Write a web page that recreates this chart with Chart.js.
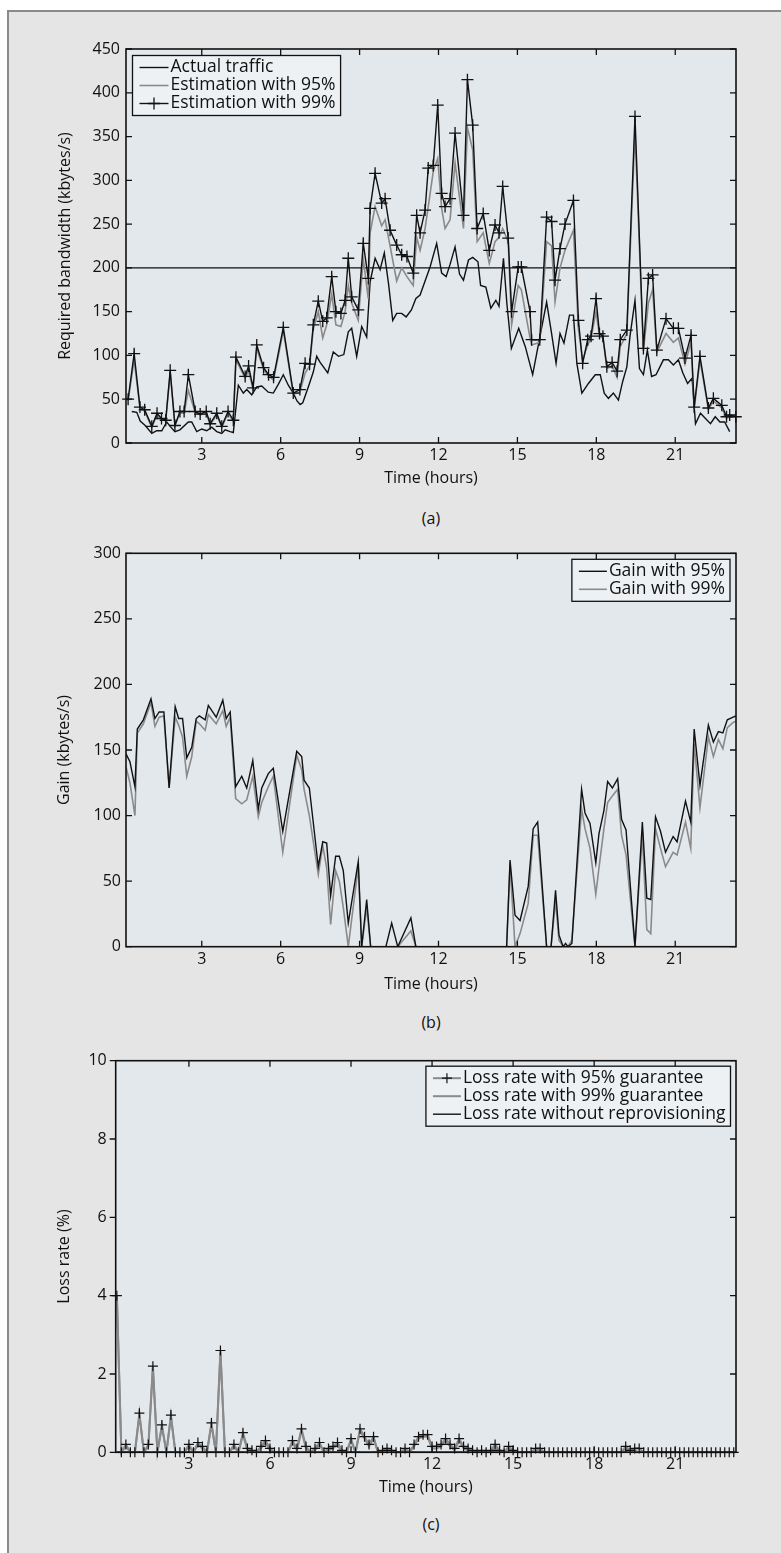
<!DOCTYPE html>
<html lang="en">
<head>
<meta charset="UTF-8">
<title>Bandwidth estimation, gain and loss rate</title>
<script src="https://cdn.jsdelivr.net/npm/chart.js"></script>
<style>
  html, body { margin: 0; padding: 0; background: #fff; }
  body { width: 781px; height: 1553px; position: relative; overflow: hidden; font-family: 'Open Sans', sans-serif; }
  .panel { position: absolute; left: 7px; top: 10px; right: 0; bottom: 0; background: #e5e5e5;
           border-left: 2px solid #8a8a8a; border-top: 2px solid #8a8a8a; }
  .box { position: absolute; left: 0; width: 781px; }
  .caption { position: absolute; left: 0; width: 862px; text-align: center; font-size: 16px; line-height: 22px; color: #111; }
</style>
</head>
<body>
<div class="panel"></div>
<div class="box" style="top:0;height:488px"><canvas id="chartA"></canvas></div>
<div class="caption" style="top:507px">(a)</div>
<div class="box" style="top:500px;height:494px"><canvas id="chartB"></canvas></div>
<div class="caption" style="top:1011px">(b)</div>
<div class="box" style="top:1000px;height:497px"><canvas id="chartC"></canvas></div>
<div class="caption" style="top:1513px">(c)</div>

<script>
// ---- (a) required bandwidth, kbytes/s ----
const estTimes = [
  0.2, 0.43, 0.65, 0.83, 1.1, 1.3, 1.47, 1.63, 1.8, 1.98,
  2.17, 2.33, 2.49, 2.75, 2.94, 3.17, 3.32, 3.57, 3.76, 4.0,
  4.2, 4.3, 4.65, 4.78, 4.95, 5.09, 5.35, 5.54, 5.73, 6.1,
  6.48, 6.73, 6.93, 7.1, 7.24, 7.43, 7.6, 7.75, 7.94, 8.1,
  8.29, 8.45, 8.57, 8.7, 8.95, 9.14, 9.33, 9.4, 9.59, 9.84,
  9.97, 10.16, 10.41, 10.6, 10.8, 11.04, 11.17, 11.3, 11.49, 11.61,
  11.8, 11.97, 12.12, 12.25, 12.44, 12.63, 12.95, 13.1, 13.3, 13.47,
  13.7, 13.93, 14.15, 14.3, 14.44, 14.65, 14.78, 15.03, 15.15, 15.48,
  15.54, 15.85, 16.11, 16.3, 16.43, 16.62, 16.81, 17.13, 17.32, 17.48,
  17.67, 17.8, 17.99, 18.12, 18.25, 18.4, 18.6, 18.79, 18.91, 19.16,
  19.47, 19.79, 19.98, 20.14, 20.3, 20.65, 20.93, 21.12, 21.37, 21.6,
  21.72, 21.94, 22.26, 22.45, 22.77, 22.95, 23.07, 23.3
];
const est95 = [
  48, 95, 40, 36, 18, 32, 27, 25, 80, 20,
  34, 34, 60, 35, 32, 34, 21, 32, 18, 34,
  25, 95, 74, 82, 62, 108, 84, 76, 72, 128,
  56, 58, 80, 88, 130, 150, 120, 135, 170, 135,
  133, 150, 180, 160, 140, 210, 165, 240, 270, 248,
  255, 225, 185, 200, 190, 180, 235, 220, 245, 270,
  310, 325, 268, 245, 255, 320, 245, 360, 335, 230,
  240, 205, 230, 235, 245, 230, 135, 180, 175, 120,
  112, 115, 230, 225, 161, 200, 220, 243, 130, 95,
  112, 120, 150, 122, 120, 85, 88, 75, 110, 125,
  355, 105, 160, 175, 104, 125, 115, 120, 90, 115,
  38, 95, 38, 48, 40, 28, 30, 30
];
const est99 = [
  50, 102, 41, 38, 19, 34, 28, 26, 83, 20,
  36, 36, 78, 36, 33, 36, 22, 34, 19, 36,
  26, 98, 76, 88, 63, 112, 86, 78, 75, 132,
  57, 61, 91, 90, 135, 162, 139, 143, 190, 150,
  148, 163, 211, 167, 152, 228, 188, 268, 308, 274,
  279, 243, 226, 215, 213, 194, 260, 240, 266, 314,
  317, 386, 285, 270, 279, 354, 260, 415, 363, 245,
  262, 220, 249, 240, 293, 234, 150, 201, 201, 150,
  118, 118, 258, 253, 186, 222, 250, 277, 140, 91,
  118, 122, 165, 125, 122, 87, 92, 82, 118, 129,
  373, 108, 188, 192, 106, 142, 131, 131, 97, 123,
  41, 99, 40, 51, 43, 30, 32, 30
];
const trafficTimes = [
  0.34, 0.53, 0.66, 0.85, 1.1, 1.29, 1.48, 1.67, 1.8, 1.98,
  2.17, 2.49, 2.62, 2.81, 3.0, 3.19, 3.38, 3.57, 3.76, 3.89,
  4.08, 4.2, 4.39, 4.58, 4.71, 4.9, 5.09, 5.28, 5.53, 5.72,
  5.91, 6.1, 6.29, 6.48, 6.62, 6.74, 6.84, 7.05, 7.24, 7.37,
  7.5, 7.79, 8.0, 8.2, 8.4, 8.57, 8.7, 8.89, 9.08, 9.27,
  9.4, 9.59, 9.78, 9.94, 10.1, 10.26, 10.41, 10.6, 10.77, 10.97,
  11.14, 11.3, 11.5, 11.68, 11.93, 12.12, 12.29, 12.44, 12.63, 12.8,
  12.95, 13.14, 13.3, 13.5, 13.6, 13.8, 13.99, 14.18, 14.3, 14.47,
  14.6, 14.77, 15.05, 15.3, 15.58, 15.86, 16.11, 16.3, 16.47, 16.62,
  16.77, 16.98, 17.13, 17.26, 17.45, 17.7, 17.96, 18.15, 18.3, 18.46,
  18.65, 18.84, 19.0, 19.16, 19.28, 19.47, 19.64, 19.79, 19.94, 20.1,
  20.27, 20.55, 20.74, 20.93, 21.12, 21.29, 21.47, 21.64, 21.77, 21.96,
  22.15, 22.34, 22.52, 22.7, 22.88, 23.07
];
const traffic = [
  36, 35, 25, 20, 11, 14, 14, 24, 19, 13,
  15, 24, 24, 13, 16, 14, 18, 13, 11, 15,
  13, 12, 66, 57, 61, 55, 64, 65, 58, 57,
  67, 78, 66, 57, 48, 44, 46, 64, 81, 99,
  92, 80, 104, 99, 101, 127, 131, 99, 133, 121,
  184, 211, 198, 217, 182, 140, 148, 148, 144, 152,
  165, 169, 186, 201, 228, 194, 190, 204, 224, 193,
  186, 209, 212, 207, 180, 178, 154, 163, 156, 211,
  159, 108, 131, 110, 78, 122, 161, 125, 91, 125,
  114, 146, 146, 91, 57, 68, 78, 78, 57, 51,
  57, 49, 70, 87, 122, 163, 85, 78, 106, 76,
  78, 95, 95, 89, 95, 80, 68, 74, 22, 34,
  28, 22, 30, 24, 24, 13
];
const LINK_CAPACITY = 200;

// ---- (b) gain, kbytes/s ----
const gainTimes = [
  0.12, 0.27, 0.46, 0.55, 0.78, 1.07, 1.22, 1.38, 1.56, 1.76,
  1.99, 2.12, 2.27, 2.43, 2.62, 2.79, 2.91, 3.13, 3.25, 3.55,
  3.8, 3.93, 4.08, 4.29, 4.52, 4.71, 4.94, 5.15, 5.28, 5.53,
  5.72, 6.08, 6.61, 6.8, 6.89, 7.09, 7.43, 7.6, 7.75, 7.9,
  8.09, 8.23, 8.38, 8.57, 8.95, 9.08, 9.27, 9.42, 10.0, 10.22,
  10.45, 10.95, 11.14, 14.59, 14.72, 14.91, 15.1, 15.41, 15.6, 15.77,
  16.11, 16.28, 16.45, 16.58, 16.74, 16.83, 16.92, 17.07, 17.44, 17.57,
  17.76, 17.98, 18.1, 18.29, 18.43, 18.61, 18.81, 18.96, 19.13, 19.47,
  19.75, 19.92, 20.07, 20.25, 20.44, 20.63, 20.92, 21.07, 21.39, 21.59,
  21.72, 21.94, 22.26, 22.45, 22.64, 22.81, 22.98, 23.2, 23.31
];
const gain95 = [
  147, 141, 122, 166, 173, 189, 174, 179, 179, 121,
  183, 174, 174, 144, 152, 174, 176, 173, 184, 175,
  188, 174, 179, 122, 130, 121, 142, 105, 121, 132,
  136, 88, 149, 145, 127, 121, 61, 80, 79, 39,
  69, 69, 58, 18, 65, 0, 36, 0, 0, 18,
  0, 22, 0, 0, 66, 24, 20, 46, 90, 95,
  0, 0, 43, 9, 0, 2.5, 0, 2.5, 120, 102,
  94, 64, 86, 104, 126, 121, 128, 97, 89, 0,
  95, 37, 36, 99, 88, 72, 84, 80, 111, 95,
  166, 123, 169, 156, 164, 163, 173, 175, 176
];
const gain99 = [
  137, 125, 100, 163, 170, 186, 168, 175, 176, 121,
  175, 169, 160, 130, 145, 172, 170, 165, 177, 170,
  180, 168, 175, 113, 109, 112, 130, 99, 110, 122,
  130, 72, 146, 135, 120, 100, 55, 77, 60, 17,
  58, 50, 30, 0, 61, 0, 30, 0, 0, 0,
  0, 12, 0, 0, 62, 0, 10, 33, 85, 85,
  0, 0, 35, 5, 0, 0, 0, 5, 105, 90,
  75, 40, 60, 90, 110, 115, 120, 85, 70, 0,
  85, 13, 10, 90, 75, 61, 72, 70, 95, 75,
  155, 106, 160, 145, 158, 151, 167, 171, 172
];

// ---- (c) loss rate, %, one sample every 10 minutes from 0:20 ----
const loss95 = [
  4.0, 0, 0.2, 0, 0, 1.0, 0, 0.2, 2.2, 0,
  0.7, 0, 0.95, 0, 0, 0, 0.2, 0, 0.25, 0.15,
  0, 0.75, 0, 2.6, 0, 0, 0.2, 0, 0.5, 0.1,
  0.05, 0, 0.15, 0.3, 0.1, 0, 0, 0, 0, 0.3,
  0.1, 0.6, 0.15, 0, 0.1, 0.25, 0, 0.1, 0.15, 0.25,
  0.05, 0, 0.35, 0, 0.6, 0.4, 0.2, 0.4, 0, 0.05,
  0.1, 0.05, 0, 0, 0.1, 0, 0.2, 0.4, 0.45, 0.45,
  0.15, 0.15, 0.2, 0.35, 0.2, 0.1, 0.35, 0.15, 0.1, 0.05,
  0, 0.05, 0, 0.05, 0.2, 0.05, 0, 0.15, 0.05, 0,
  0, 0, 0, 0.1, 0.1, 0, 0, 0, 0, 0,
  0, 0, 0, 0, 0, 0, 0, 0, 0, 0,
  0, 0, 0, 0.15, 0.05, 0.1, 0.1, 0, 0, 0,
  0, 0, 0, 0, 0, 0, 0, 0, 0, 0,
  0, 0, 0, 0, 0, 0, 0, 0
];
const loss99 = [
  4.0, 0, 0.15, 0, 0, 0.95, 0, 0.15, 2.15, 0,
  0.65, 0, 0.9, 0, 0, 0, 0.15, 0, 0.2, 0.1,
  0, 0.7, 0, 2.55, 0, 0, 0.15, 0, 0.45, 0.05,
  0, 0, 0.1, 0.25, 0.05, 0, 0, 0, 0, 0.25,
  0.05, 0.55, 0.1, 0, 0.05, 0.2, 0, 0.05, 0.1, 0.2,
  0, 0, 0.3, 0, 0.55, 0.35, 0.15, 0.35, 0, 0,
  0.05, 0, 0, 0, 0.05, 0, 0.15, 0.35, 0.4, 0.4,
  0.1, 0.1, 0.15, 0.3, 0.15, 0.05, 0.3, 0.1, 0.05, 0,
  0, 0, 0, 0, 0.15, 0, 0, 0.1, 0, 0,
  0, 0, 0, 0.05, 0.05, 0, 0, 0, 0, 0,
  0, 0, 0, 0, 0, 0, 0, 0, 0, 0,
  0, 0, 0, 0.1, 0, 0.05, 0, 0, 0, 0,
  0, 0, 0, 0, 0, 0, 0, 0, 0, 0,
  0, 0, 0, 0, 0, 0, 0, 0
];
const lossTimes = loss95.map((_, i) => (i + 2) / 6);
const noReprovTimes = [0.33, 23.17];
const noReprovLoss = [0, 0];

const xTicks = [3, 6, 9, 12, 15, 18, 21];

const FONT = "'Open Sans', sans-serif";
const INK = '#111';
const GREY = '#8a8a8a';
const PLOT_BG = '#e3e8ed';
const LEGEND_BG = '#eef1f4';
const LEGEND_FONT = 17.5;

Chart.defaults.font.family = FONT;
Chart.defaults.font.size = 16;
Chart.defaults.color = INK;

const pts = (xs, ys) => xs.map((x, i) => ({ x, y: ys[i] }));

// plot background, box and inward tick marks
const plotFrame = {
  id: 'plotFrame',
  beforeDraw(chart, args, o) {
    const { ctx, chartArea: a } = chart;
    ctx.save();
    ctx.fillStyle = PLOT_BG;
    ctx.fillRect(a.left, a.top, a.right - a.left, a.bottom - a.top);
    ctx.restore();
  },
  afterDatasetsDraw(chart, args, o) {
    const { ctx, chartArea: a, scales: { x, y } } = chart;
    const len = o.tickLength;
    ctx.save();
    ctx.strokeStyle = INK;
    ctx.lineWidth = 1.3;
    ctx.beginPath();
    x.ticks.forEach(t => {
      const px = x.getPixelForValue(t.value);
      ctx.moveTo(px, a.bottom); ctx.lineTo(px, a.bottom - len);
      ctx.moveTo(px, a.top); ctx.lineTo(px, a.top + len);
    });
    y.ticks.forEach(t => {
      const py = y.getPixelForValue(t.value);
      ctx.moveTo(a.left, py); ctx.lineTo(o.leftOutward ? a.left - len : a.left + len, py);
      ctx.moveTo(a.right, py); ctx.lineTo(a.right - len, py);
    });
    ctx.stroke();
    ctx.lineWidth = 1.6;
    ctx.strokeRect(a.left, a.top, a.right - a.left, a.bottom - a.top);
    ctx.restore();
  }
};

// boxed legend inside the plot
const boxLegend = {
  id: 'boxLegend',
  afterDraw(chart, args, o) {
    const { ctx, chartArea: a } = chart;
    const items = chart.data.datasets.filter(d => d.label);
    ctx.save();
    ctx.font = LEGEND_FONT + 'px ' + FONT;
    const textW = Math.max(...items.map(d => ctx.measureText(d.label).width));
    const w = 7 + o.sample + 2 + textW + 5;
    const h = items.length * 18 + 6;
    const left = o.align === 'left' ? a.left + o.inset : a.right - o.inset - w;
    const top = a.top + o.inset;
    ctx.fillStyle = LEGEND_BG;
    ctx.fillRect(left, top, w, h);
    ctx.strokeStyle = INK;
    ctx.lineWidth = 1.3;
    ctx.strokeRect(left, top, w, h);
    items.forEach((d, i) => {
      const cy = top + 3 + 18 * (i + 0.5);
      const x0 = left + 7, x1 = x0 + o.sample;
      ctx.strokeStyle = d.borderColor;
      ctx.lineWidth = d.borderWidth;
      ctx.beginPath(); ctx.moveTo(x0, cy); ctx.lineTo(x1, cy); ctx.stroke();
      if (d.pointRadius > 0) {
        const cx = (x0 + x1) / 2, r = d.pointRadius;
        ctx.strokeStyle = d.pointBorderColor;
        ctx.lineWidth = d.pointBorderWidth;
        ctx.beginPath();
        ctx.moveTo(cx - r, cy); ctx.lineTo(cx + r, cy);
        ctx.moveTo(cx, cy - r); ctx.lineTo(cx, cy + r);
        ctx.stroke();
      }
      ctx.fillStyle = INK;
      ctx.textBaseline = 'middle';
      ctx.fillText(d.label, x1 + 2, cy);
    });
    ctx.restore();
  }
};

function lineSet(label, data, color, width, order, extra) {
  return Object.assign({
    label, data, order,
    borderColor: color, borderWidth: width,
    pointRadius: 0, pointHoverRadius: 0,
    tension: 0, fill: false
  }, extra || {});
}

function makeChart(id, c) {
  return new Chart(document.getElementById(id), {
    type: 'line',
    data: { datasets: c.datasets },
    options: {
      responsive: true,
      maintainAspectRatio: false,
      animation: false,
      events: [],
      layout: { padding: { top: c.top, right: 45, bottom: 0, left: c.left } },
      plugins: {
        legend: { display: false },
        tooltip: { enabled: false },
        plotFrame: { tickLength: 6, leftOutward: !!c.leftOutward },
        boxLegend: { align: c.legendAlign, inset: c.legendInset, sample: c.sample }
      },
      scales: {
        x: {
          type: 'linear', min: c.xMin, max: c.xMax,
          afterBuildTicks: s => { s.ticks = xTicks.map(v => ({ value: v })); },
          afterFit: s => { s.height = c.xHeight; },
          grid: { display: false, drawTicks: false },
          border: { display: false },
          ticks: { padding: 3, maxRotation: 0 },
          title: { display: true, text: 'Time (hours)', padding: 0 }
        },
        y: {
          min: 0, max: c.yMax,
          afterFit: s => { s.width = c.yWidth; },
          grid: { display: false, drawTicks: false },
          border: { display: false },
          ticks: { stepSize: c.yStep, padding: c.yPad },
          title: { display: true, text: c.yTitle, padding: 0 }
        }
      }
    },
    plugins: [plotFrame, boxLegend]
  });
}

// (a)
makeChart('chartA', {
  top: 49, left: 55.4, yWidth: 70.6, xHeight: 45,
  xMin: 0.12, xMax: 23.31, yMax: 450, yStep: 50, yPad: 6,
  yTitle: 'Required bandwidth (kbytes/s)',
  legendAlign: 'left', legendInset: 6.5, sample: 29,
  datasets: [
    lineSet('Actual traffic', pts(trafficTimes, traffic), INK, 1.4, 2),
    lineSet('Estimation with 95%', pts(estTimes, est95), GREY, 1.6, 1),
    lineSet('Estimation with 99%', pts(estTimes, est99), INK, 1.4, 0, {
      pointRadius: 6, pointStyle: 'cross', pointBorderColor: INK, pointBorderWidth: 1.3, clip: false
    }),
    lineSet('', [{ x: 0.12, y: LINK_CAPACITY }, { x: 23.31, y: LINK_CAPACITY }], INK, 1.3, 3)
  ]
});

// (b)
makeChart('chartB', {
  top: 53.3, left: 54.4, yWidth: 71.6, xHeight: 47.3,
  xMin: 0.12, xMax: 23.31, yMax: 300, yStep: 50, yPad: 5,
  yTitle: 'Gain (kbytes/s)',
  legendAlign: 'right', legendInset: 6, sample: 28,
  datasets: [
    lineSet('Gain with 95%', pts(gainTimes, gain95), INK, 1.4, 0),
    lineSet('Gain with 99%', pts(gainTimes, gain99), GREY, 1.6, 1)
  ]
});

// (c)
makeChart('chartC', {
  top: 60.7, left: 54.4, yWidth: 61.3, xHeight: 44.7, leftOutward: true,
  xMin: 0.29, xMax: 23.25, yMax: 10, yStep: 2, yPad: 9,
  yTitle: 'Loss rate (%)',
  legendAlign: 'right', legendInset: 5.5, sample: 28,
  datasets: [
    lineSet('Loss rate with 95% guarantee', pts(lossTimes, loss95), GREY, 2, 0, {
      pointRadius: 5, pointStyle: 'cross', pointBorderColor: INK, pointBorderWidth: 1.2, clip: false
    }),
    lineSet('Loss rate with 99% guarantee', pts(lossTimes, loss99), GREY, 2, 1),
    lineSet('Loss rate without reprovisioning', pts(noReprovTimes, noReprovLoss), INK, 1.4, 2)
  ]
});
</script>
</body>
</html>
